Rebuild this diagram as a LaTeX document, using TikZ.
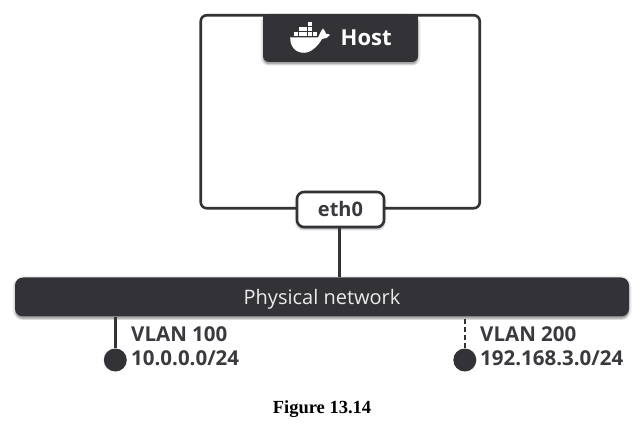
\documentclass[tikz,border=0pt]{standalone}
\usepackage{fontspec}
\setmainfont{Open Sans}
\newfontfamily\captionfont{Liberation Serif}
\usetikzlibrary{shadows}
\definecolor{darkbar}{HTML}{333236}
\definecolor{darktext}{HTML}{3A393D}
\tikzset{
  softshadow/.style={
    general shadow={shadow xshift=0pt,shadow yshift=-1pt,fill=black,opacity=.08,draw=black,draw opacity=.06,line width=5pt},
    general shadow={shadow xshift=0pt,shadow yshift=-2pt,fill=black,opacity=.10,draw=black,draw opacity=.08,line width=3pt},
    general shadow={shadow xshift=0pt,shadow yshift=-2.5pt,fill=black,opacity=.12}},
  hostframe/.style={draw=darkbar,line width=2.6pt,rounded corners=6pt,minimum width=279pt,minimum height=193pt,inner sep=0pt},
  ethbox/.style={draw=darkbar,fill=white,line width=2.6pt,rounded corners=7pt,minimum width=87pt,minimum height=35pt,inner sep=0pt,font=\fontsize{20}{22}\selectfont\bfseries,text=darktext,softshadow},
  barbox/.style={fill=darkbar,rounded corners=8pt,minimum width=614pt,minimum height=39pt,inner sep=0pt,text height=19pt,text depth=4pt,font=\fontsize{20}{22}\selectfont,text=white!92!black,softshadow},
  vlandot/.style={circle,fill=darkbar,minimum size=23pt,inner sep=0pt},
  vlanlabel/.style={anchor=west,align=left,inner sep=0pt,font=\fontsize{20.5}{23.5}\selectfont\bfseries,text=darktext},
  vlanline/.style={draw=darkbar,line width=2.6pt}
}
\begin{document}
\begin{tikzpicture}[x=1pt,y=-1pt]
  \useasboundingbox (0,0) rectangle (642,427);

  % Host
  \node[hostframe] (frame) at (340.25,111.75) {};
  \fill[darkbar,rounded corners=6pt,softshadow] (263,15) -- (263,62) -- (418,62) -- (418,15) -- cycle;
  \fill[darkbar] (263,14.5) rectangle (418,24);
  \node[anchor=base west,inner sep=0pt,text=white,font=\fontsize{22}{24}\selectfont\bfseries] (hostname) at (340.5,45.5) {Host};

  % Ballena
  \fill[white] (290.2,37.5) -- (318,37.5) .. controls (319.5,35) and (320.5,31) .. (323,28.5)
    .. controls (324.5,30) and (325.5,32) .. (326,34) .. controls (327.5,33.5) and (329,34) .. (330,35)
    .. controls (328.5,37.5) and (325,39) .. (322,39) .. controls (318,46) and (311,52.8) .. (304,52.8)
    .. controls (295,52.8) and (290,46) .. (290.2,37.5) -- cycle;
  \foreach \bx in {0,...,4}
    \fill[white] (294+4.7*\bx,32) rectangle +(3.8,4);
  \foreach \bx in {1,2,3}
    \fill[white] (294+4.7*\bx,27) rectangle +(3.8,4);
  \fill[white] (294+4.7*3,22) rectangle +(3.8,4);

  % Red fisica
  \node[barbox] (phys) at (322,297) {Physical network};
  \node[ethbox] (eth) at (340.5,209.5) {eth0};
  \draw[vlanline] ([xshift=-1pt]eth.south) -- ([xshift=-1pt]eth.south |- phys.north);

  % VLAN
  \node[vlandot] (dotA) at (115.3,360) {};
  \node[vlandot] (dotB) at (464.8,360) {};
  \draw[vlanline] (dotA) -- (dotA |- phys.south);
  \draw[vlanline,dash pattern=on 5pt off 3pt] (dotB) -- (dotB |- phys.south);
  \node[vlanlabel] (labelA) at (131,346) {VLAN 100\\10.0.0.0/24};
  \node[vlanlabel] (labelB) at (480,346) {VLAN 200\\192.168.3.0/24};

  % Pie
  \node[inner sep=0pt,font=\captionfont\fontsize{18.5}{20}\selectfont\bfseries] (figcaption) at (322,409) {Figure 13.14};
\end{tikzpicture}
\end{document}
